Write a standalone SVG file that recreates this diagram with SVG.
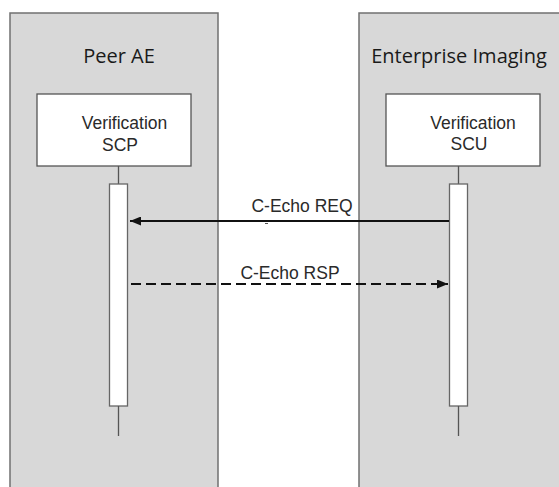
<svg xmlns="http://www.w3.org/2000/svg" width="559" height="487" viewBox="0 0 559 487">
<style>
.panel{fill:#d8d8d8;stroke:#707070;stroke-width:1.5}
.box{fill:#fff;stroke:#555;stroke-width:1.3}
.act{fill:#fff;stroke:#666;stroke-width:1.3}
.life{stroke:#555;stroke-width:1.3}
.hdr{font-family:"Open Sans","Liberation Sans",sans-serif;font-size:20px;fill:#1a1a1a;text-anchor:middle}
.lbl{font-family:"Liberation Sans",Arial,sans-serif;font-size:17.5px;fill:#2a2a2a;text-anchor:middle}
.msg{stroke:#111;stroke-width:2;fill:none}
</style>
<defs>
<marker id="ah" viewBox="0 0 11 9" refX="11" refY="4.5" markerWidth="11" markerHeight="9" markerUnits="userSpaceOnUse" orient="auto">
<path d="M0,0 L11,4.5 L0,9 z" fill="#111"/>
</marker>
</defs>
<g id="peer-ae">
<rect class="panel" x="10" y="13" width="208" height="480"/>
<text class="hdr" x="119" y="63">Peer AE</text>
</g>
<g id="enterprise-imaging">
<rect class="panel" x="359" y="13" width="210" height="480"/>
<text class="hdr" x="459" y="63">Enterprise Imaging</text>
</g>
<g id="verification-scp">
<rect class="box" x="37" y="94" width="154" height="72"/>
<text class="lbl" x="124.5" y="129">Verification</text>
<text class="lbl" x="120" y="151">SCP</text>
<line class="life" x1="118.5" y1="166" x2="118.5" y2="184"/>
<rect class="act" x="109.5" y="184" width="18" height="222"/>
<line class="life" x1="118.5" y1="406" x2="118.5" y2="436"/>
</g>
<g id="verification-scu">
<rect class="box" x="386" y="94" width="154" height="72"/>
<text class="lbl" x="473" y="129">Verification</text>
<text class="lbl" x="469" y="150">SCU</text>
<line class="life" x1="458.5" y1="166" x2="458.5" y2="184"/>
<rect class="act" x="449.5" y="184" width="18" height="222"/>
<line class="life" x1="458.5" y1="406" x2="458.5" y2="436"/>
</g>
<g id="connectors">
<line class="msg" x1="449" y1="221" x2="130" y2="221" marker-end="url(#ah)"/>
<text class="lbl" x="302" y="212">C-Echo REQ</text>
<line x1="265" y1="223.5" x2="268" y2="223.5" stroke="#555" stroke-width="1"/>
<line class="msg" x1="131" y1="284" x2="448" y2="284" stroke-dasharray="10,5" marker-end="url(#ah)"/>
<text class="lbl" x="290" y="279">C-Echo RSP</text>
</g>
</svg>
